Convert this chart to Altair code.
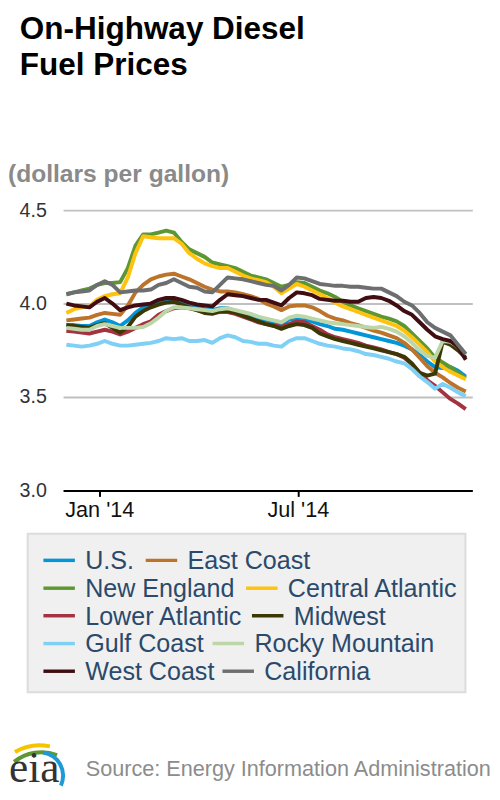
import altair as alt
import pandas as pd

# ---- data (weekly, Mondays) ----
start = pd.Timestamp("2013-12-02")
dates = [(start + pd.Timedelta(weeks=i)).strftime("%Y-%m-%d") for i in range(53)]

series_names = ["U.S.", "East Coast", "New England", "Central Atlantic", "Lower Atlantic",
                "Midwest", "Gulf Coast", "Rocky Mountain", "West Coast", "California"]
series_colors = ["#0096d7", "#bd732a", "#5d9732", "#ffc20e", "#a33340",
                 "#3b3806", "#7fd0f5", "#bcd6a8", "#3f0d12", "#6d6e70"]

us = [3.885,3.885,3.88,3.88,3.90,3.915,3.90,3.88,3.91,3.95,
      3.98,4.00,4.01,4.02,4.02,4.00,3.985,3.98,3.97,3.965,
      3.975,3.975,3.96,3.945,3.935,3.92,3.91,3.90,3.885,3.915,
      3.92,3.915,3.905,3.89,3.88,3.865,3.86,3.85,3.84,3.83,
      3.82,3.81,3.80,3.79,3.775,3.755,3.725,3.69,3.66,3.655,
      3.66,3.64,3.61]
east_coast = [3.91,3.915,3.92,3.925,3.94,3.95,3.945,3.94,3.99,4.06,
              4.10,4.13,4.145,4.155,4.16,4.145,4.13,4.11,4.09,4.075,
              4.065,4.065,4.06,4.05,4.04,4.025,4.00,3.985,3.965,3.985,
              3.99,3.99,3.98,3.96,3.935,3.92,3.91,3.895,3.885,3.87,
              3.855,3.845,3.83,3.815,3.79,3.755,3.71,3.665,3.63,3.605,
              3.575,3.55,3.53]
new_england = [4.05,4.06,4.07,4.08,4.10,4.11,4.11,4.115,4.19,4.31,
               4.37,4.37,4.38,4.39,4.38,4.33,4.29,4.27,4.25,4.22,
               4.21,4.20,4.19,4.17,4.15,4.14,4.13,4.11,4.09,4.10,
               4.115,4.11,4.09,4.07,4.055,4.035,4.01,3.99,3.975,3.96,
               3.945,3.93,3.92,3.905,3.88,3.84,3.80,3.76,3.71,3.685,
               3.66,3.63,3.60]
central_atl = [3.95,3.97,3.98,3.985,4.02,4.04,4.05,4.055,4.14,4.27,
               4.36,4.355,4.35,4.35,4.35,4.32,4.27,4.24,4.215,4.20,
               4.19,4.19,4.17,4.15,4.135,4.125,4.115,4.09,4.055,4.08,
               4.105,4.09,4.07,4.05,4.03,4.005,3.985,3.97,3.955,3.94,
               3.925,3.91,3.895,3.88,3.855,3.82,3.78,3.74,3.69,3.66,
               3.635,3.615,3.595]
lower_atl = [3.855,3.85,3.845,3.84,3.85,3.86,3.85,3.835,3.85,3.87,
             3.89,3.905,3.94,3.96,3.975,3.98,3.975,3.965,3.955,3.95,
             3.955,3.955,3.945,3.93,3.915,3.90,3.89,3.885,3.875,3.89,
             3.905,3.90,3.88,3.86,3.835,3.82,3.81,3.80,3.79,3.775,
             3.765,3.755,3.74,3.73,3.71,3.675,3.63,3.59,3.56,3.525,
             3.49,3.465,3.435]
midwest = [3.885,3.88,3.875,3.87,3.885,3.895,3.87,3.845,3.875,3.93,
           3.96,3.98,3.995,4.005,4.01,3.995,3.98,3.965,3.95,3.945,
           3.96,3.96,3.95,3.935,3.92,3.905,3.89,3.88,3.865,3.88,
           3.89,3.885,3.87,3.84,3.825,3.81,3.80,3.79,3.78,3.77,
           3.76,3.75,3.74,3.73,3.715,3.68,3.63,3.615,3.625,3.795,
           3.78,3.75,3.71]
gulf_coast = [3.78,3.775,3.77,3.775,3.785,3.80,3.785,3.775,3.775,3.78,
              3.785,3.79,3.80,3.815,3.81,3.815,3.80,3.80,3.805,3.79,
              3.815,3.83,3.82,3.80,3.795,3.785,3.785,3.775,3.77,3.80,
              3.815,3.815,3.80,3.785,3.775,3.77,3.76,3.755,3.745,3.73,
              3.725,3.715,3.705,3.69,3.68,3.65,3.61,3.58,3.545,3.57,
              3.55,3.525,3.505]
rocky_mtn = [3.87,3.865,3.86,3.86,3.88,3.89,3.88,3.87,3.87,3.87,
             3.875,3.895,3.925,3.96,3.98,3.98,3.975,3.97,3.965,3.96,
             3.97,3.975,3.965,3.955,3.945,3.93,3.92,3.91,3.90,3.925,
             3.935,3.93,3.92,3.91,3.90,3.895,3.89,3.885,3.88,3.875,
             3.87,3.875,3.865,3.85,3.825,3.79,3.75,3.72,3.71,3.80,
             3.795,3.77,3.725]
west_coast = [4.00,3.99,3.985,3.98,4.01,4.03,4.00,3.965,3.98,3.99,
              3.995,4.00,4.02,4.03,4.03,4.02,4.005,3.995,3.99,3.985,
              4.02,4.05,4.045,4.04,4.03,4.02,4.02,4.005,3.99,4.03,
              4.06,4.055,4.045,4.025,4.02,4.015,4.015,4.01,4.01,4.03,
              4.035,4.03,4.015,3.99,3.96,3.94,3.90,3.86,3.825,3.81,
              3.80,3.77,3.70]
california = [4.05,4.06,4.065,4.07,4.10,4.12,4.10,4.06,4.065,4.07,
              4.07,4.075,4.10,4.11,4.13,4.11,4.09,4.085,4.065,4.06,
              4.10,4.14,4.135,4.13,4.12,4.11,4.10,4.095,4.07,4.10,
              4.14,4.135,4.12,4.105,4.10,4.095,4.095,4.09,4.09,4.085,
              4.08,4.08,4.06,4.04,4.01,3.99,3.95,3.90,3.87,3.85,
              3.83,3.78,3.73]

all_values = [us, east_coast, new_england, central_atl, lower_atl,
              midwest, gulf_coast, rocky_mtn, west_coast, california]

y_ticks = [3.0, 3.5, 4.0, 4.5]

rows = []
for k, (name, vals) in enumerate(zip(series_names, all_values)):
    assert len(vals) == len(dates), name
    for d, v in zip(dates, vals):
        rows.append({"date": d, "price": v, "series": name, "order": k})
df = pd.DataFrame(rows)

FONT = "Liberation Sans"

lines = alt.Chart(df).mark_line(strokeWidth=4, strokeJoin="round").encode(
    x=alt.X("date:T",
            scale=alt.Scale(domain=[alt.DateTime(year=2013, month=11, date=29),
                                    alt.DateTime(year=2014, month=12, date=7)]),
            axis=alt.Axis(values=[alt.DateTime(year=2014, month=1, date=1),
                                  alt.DateTime(year=2014, month=7, date=1)],
                          format="%b '%y", title=None, grid=False,
                          labelFontSize=22, labelFont=FONT, labelColor="#111111",
                          tickSize=6, tickWidth=2, tickColor="#000000",
                          domainColor="#000000", domainWidth=2, labelPadding=3)),
    y=alt.Y("price:Q",
            scale=alt.Scale(domain=[3.0, 4.5], nice=False, zero=False),
            axis=alt.Axis(values=y_ticks, format=".1f", title=None,
                          domain=False, ticks=False, labelFontSize=20, labelFont=FONT,
                          labelColor="#333333", labelPadding=17,
                          gridColor="#c0c0c0", gridWidth=2)),
    color=alt.Color("series:N",
                    scale=alt.Scale(domain=series_names, range=series_colors),
                    legend=None),
    detail="series:N",
    order="order:Q",
)

def txt(s, x, y, size, color, weight="normal", font=FONT):
    return alt.Chart(pd.DataFrame({"t": [s]})).mark_text(
        align="left", baseline="alphabetic", fontSize=size, font=font,
        fontWeight=weight, color=color
    ).encode(text="t:N", x=alt.value(x), y=alt.value(y))

def arc(color, x, y, r1, r2, t1, t2):
    return alt.Chart(pd.DataFrame({"a": [0]})).mark_arc(
        color=color, radius=r2, radius2=r1, theta=t1, theta2=t2
    ).encode(x=alt.value(x), y=alt.value(y))

# ---- legend (flow layout, two entries per row) ----
legend_box = alt.Chart(pd.DataFrame({"a": [0]})).mark_rect(
    fill="#f0f0f0", stroke="#dcdcdc", strokeWidth=2
).encode(x=alt.value(-36), x2=alt.value(409), y=alt.value(329), y2=alt.value(490))

row_y = [356, 384.3, 412.3, 440.6, 468.7]          # row centres (px from plot top)
col2_x = [84, 186, 192, 152, 162]                  # swatch start of 2nd entry per row
legend_layers = []
for k, (name, color) in enumerate(zip(series_names, series_colors)):
    r, c = divmod(k, 2)
    sx = -20 if c == 0 else col2_x[r]
    legend_layers.append(
        alt.Chart(pd.DataFrame({"a": [0]})).mark_rule(
            color=color, strokeWidth=3.5, strokeCap="butt"
        ).encode(x=alt.value(sx), x2=alt.value(sx + 32), y=alt.value(row_y[r]))
    )
    legend_layers.append(txt(name, sx + 42.5, row_y[r] + 9, 25.5, "#2b4a6b"))

title1 = txt("On-Highway Diesel", -44, -174, 32, "#000000", "bold")
title2 = txt("Fuel Prices", -44, -137, 32, "#000000", "bold")
subtitle = txt("(dollars per gallon)", -56, -29, 25, "#8a8a8a", "bold")
source = txt("Source: Energy Information Administration", 23, 575, 22, "#8c8c8c")
logo = txt("eia", -55, 581, 44, "#333333", "normal", "Liberation Serif")
arc_y = arc("#f5c400", -24, 593, 47, 51, 5.75, 6.5)
arc_g = arc("#5d9732", -22, 595, 42, 46, 5.6, 6.65)
arc_b = arc("#1e9ad6", -24, 575, 22, 26, 0.15, 2.0)

chart = alt.layer(lines, title1, title2, subtitle, legend_box, *legend_layers,
                  source, arc_y, arc_g, arc_b, logo).properties(
    width=416, height=285,
    autosize=alt.AutoSizeParams(type="none"),
    padding={"left": 56, "top": 199, "right": 20, "bottom": 300},
).configure_view(stroke=None)

chart.save("out.html", embed_options={"renderer": "svg", "actions": False})
